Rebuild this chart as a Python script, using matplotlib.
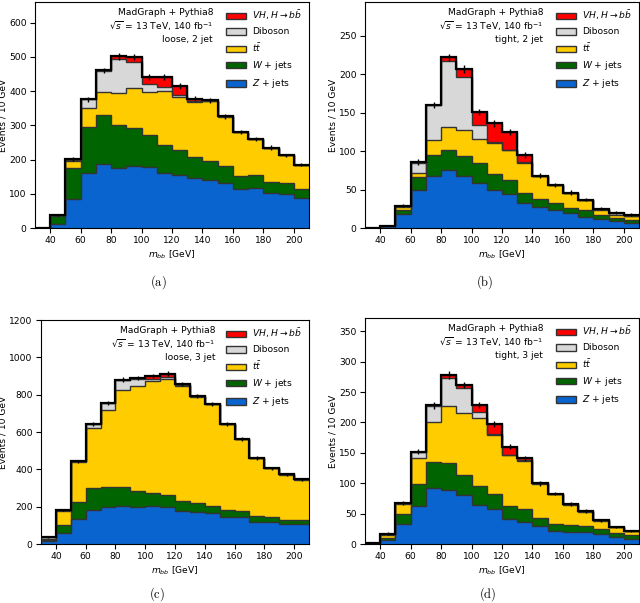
import numpy as np
import matplotlib
matplotlib.use("Agg")
import matplotlib.pyplot as plt
from matplotlib.patches import Patch

edges = np.arange(30, 211, 10)

# panel (a) loose, 2 jet
a_Z   = [0,12,85,160,186,174,181,177,162,156,146,141,132,114,118,103,99,89]
a_W   = [0,23,89,136,143,126,111,96,80,72,61,55,49,38,36,32,31,24]
a_tt  = [0,2,22,53,69,94,118,124,159,155,161,175,144,128,105,100,82,72]
a_VV  = [0,0,4,27,61,99,75,23,10,5,2,1,1,0,0,0,0,0]
a_VH  = [0,0,1,0,1,8,15,22,31,27,8,1,0,0,0,0,0,0]
a_err = [0,3,5,7,8,9,9,9,9,8,8,7,7,6,6,6,5,5]

# panel (b) tight, 2 jet
b_Z   = [0,2,18,50,68,75,67,59,50,44,33,27,23,19,14,12,9,7]
b_W   = [0,0,6,16,27,27,27,25,20,18,13,11,10,7,9,5,4,4]
b_tt  = [0,1,3,6,20,30,34,32,40,39,39,30,23,20,14,7,4,4]
b_VV  = [0,0,2,13,45,85,69,18,2,1,1,0,0,0,0,1,2,1]
b_VH  = [0,0,0,1,0,5,10,17,24,23,9,0,0,0,0,0,1,1]
b_err = [0,1,2,4,4,5,5,4,4,4,4,3,3,3,2,2,2,2]

# panel (c) loose, 3 jet
c_Z   = [14,59,132,183,197,204,197,201,199,178,171,164,146,146,119,119,107,107]
c_W   = [7,44,92,116,109,104,87,71,64,53,51,42,37,32,32,27,23,23]
c_tt  = [7,75,217,320,412,515,561,601,622,614,567,544,459,382,308,259,242,215]
c_VV  = [7,2,2,22,36,53,40,12,9,5,3,1,1,1,1,1,1,1]
c_VH  = [0,0,0,0,1,4,3,15,18,7,0,0,0,0,0,0,0,0]
c_err = [2,5,8,10,11,12,12,13,13,12,12,11,10,10,9,8,8,8]

# panel (d) tight, 3 jet
d_Z   = [0,7,33,63,92,89,80,64,58,41,37,29,21,20,19,16,12,9]
d_W   = [0,3,16,35,43,44,34,31,24,22,20,14,12,11,10,8,6,6]
d_tt  = [0,4,17,44,66,94,102,113,97,83,79,56,49,34,24,14,10,6]
d_VV  = [1,3,2,10,26,47,40,10,2,1,2,1,1,1,1,1,0,0]
d_VH  = [0,0,0,0,1,4,6,11,16,13,3,0,0,0,0,0,0,0]
d_err = [0,2,3,4,5,6,5,5,5,4,4,4,3,3,3,2,2,2]

colors = {"Z": "#0a64cf", "W": "#006400", "tt": "#ffcc00", "VV": "#d8d8d8", "VH": "#ff0000"}
labels = {"VH": r"$VH$, $H\rightarrow b\bar{b}$", "VV": "Diboson", "tt": r"$t\bar{t}$",
          "W": r"$W$ + jets", "Z": r"$Z$ + jets"}

FS = 6.6
plt.rcParams["font.size"] = FS

fig = plt.figure(figsize=(6.4, 6.03), dpi=100)

def ax_px(l, r, t, b):
    W, H = 640, 603
    return fig.add_axes([l / W, (H - b) / H, (r - l) / W, (b - t) / H])

panels = [
    (ax_px(35, 309, 2, 228), (a_Z, a_W, a_tt, a_VV, a_VH), a_err, "loose, 2 jet", 660, 100, 600),
    (ax_px(365, 639, 2, 228), (b_Z, b_W, b_tt, b_VV, b_VH), b_err, "tight, 2 jet", 294, 50, 250),
    (ax_px(41, 309, 320, 544), (c_Z, c_W, c_tt, c_VV, c_VH), c_err, "loose, 3 jet", 1200, 200, 1200),
    (ax_px(365, 639, 318, 544), (d_Z, d_W, d_tt, d_VV, d_VH), d_err, "tight, 3 jet", 372, 50, 350),
]

keys = ["Z", "W", "tt", "VV", "VH"]
for ax, comps, err, sel, ymax, ystep, ytop in panels:
    base = np.zeros(len(edges) - 1)
    for k, vals in zip(keys, comps):
        top = base + np.asarray(vals, float)
        ax.stairs(top, edges, baseline=base, fill=True, color=colors[k], zorder=2)
        ax.stairs(top, edges, baseline=None, color="#333333", lw=1.0, zorder=3)
        base = top
    ax.stairs(base, edges, baseline=None, color="black", lw=1.6, zorder=4)
    centers = 0.5 * (edges[:-1] + edges[1:])
    ax.errorbar(centers, base, yerr=err, fmt="none", ecolor="black", elinewidth=1.0, zorder=5)
    ax.set_xlim(30, 210)
    ax.set_ylim(0, ymax)
    ax.set_xticks(np.arange(40, 201, 20))
    ax.set_yticks(np.arange(0, ytop + 1, ystep))
    ax.tick_params(labelsize=FS, length=3.5, width=0.8, pad=2.5)
    ax.set_xlabel(r"$m_{bb}$ [GeV]", fontsize=FS, labelpad=2)
    ax.set_ylabel("Events / 10 GeV", fontsize=FS, labelpad=1)
    ax.text(0.65, 0.975, "MadGraph + Pythia8\n" + r"$\sqrt{s}$ = 13 TeV, 140 fb$^{-1}$" + "\n" + sel,
            transform=ax.transAxes, ha="right", va="top", fontsize=FS, linespacing=1.25, zorder=6)
    handles = [Patch(facecolor=colors[k], edgecolor="#333333", lw=1.0, label=labels[k])
               for k in ["VH", "VV", "tt", "W", "Z"]]
    ax.legend(handles=handles, loc="upper right", frameon=False, fontsize=FS,
              handlelength=2.2, handleheight=0.75, labelspacing=0.55, handletextpad=0.7,
              borderaxespad=0.3)

for lab, x, y in [("(a)", 158, 282), ("(b)", 485, 282), ("(c)", 157, 594), ("(d)", 488, 594)]:
    fig.text(x / 640, 1 - y / 603, r"$\mathrm{" + lab + "}$", ha="center", va="center",
             fontsize=9, math_fontfamily="cm")

fig.savefig("out.png", dpi=100)
